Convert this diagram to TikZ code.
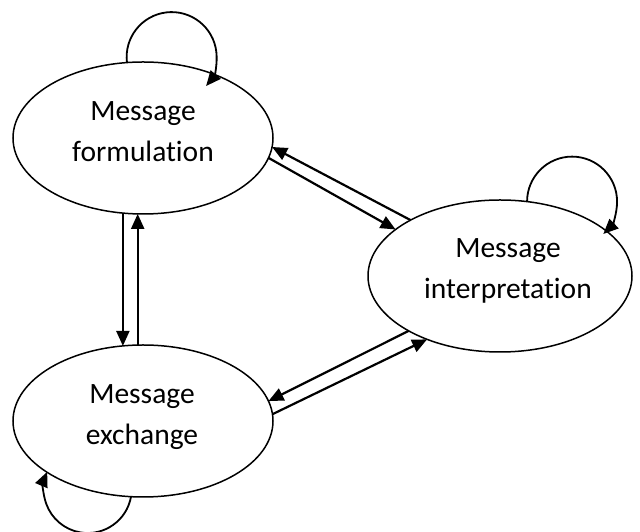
\documentclass[tikz,border=0pt]{standalone}
\usepackage{fontspec}
\setmainfont{Carlito}[Ligatures=NoCommon]
\usetikzlibrary{arrows.meta,shapes.geometric}
\begin{document}
\begin{tikzpicture}[x=1pt,y=1pt,
  state/.style={ellipse, draw, line width=1.5pt, minimum width=260pt,
    minimum height=152pt, inner sep=0pt, outer sep=0pt},
  caption/.style={align=center, inner sep=0pt,
    font=\fontsize{29.5}{41}\selectfont},
  flow/.style={-{Triangle[length=15pt,width=13pt]}, line width=2.2pt},
  selfloop/.style={-{Triangle[length=15pt,width=13pt]}, line width=1.8pt}]
\useasboundingbox (0,0) rectangle (640,532);

% the three stages
\node[state] (f) at (143,394) {};
\node[state, minimum width=264pt] (e) at (500,256) {};
\node[state] (x) at (143,111) {};

\node[caption] (ft) at (143,400) {Message\\formulation};
\node[caption] (et) at (508,261.5) {Message\\interpretation};
\node[caption] (xt) at (142,115) {Message\\exchange};

% formulation <-> exchange
\draw[flow] (f.-105) -- (x.105);
\draw[flow] (x.94.5) -- (f.-94.5);

% formulation <-> interpretation
\draw[flow] (e.148.5) -- (f.-4);
\draw[flow] (f.-9.2) -- (e.156.7);

% interpretation <-> exchange
\draw[flow] (e.211.3) -- (x.9.5);
\draw[flow] (x.3.4) -- (e.221.5);

% self loops
\draw[selfloop] (f.102) arc[start angle=187, end angle=-40, radius=45];
\draw[selfloop] (e.70) arc[start angle=180, end angle=-46, radius=45];
\draw[selfloop] (x.-99) arc[start angle=-10, end angle=-203, radius=44];
\end{tikzpicture}
\end{document}
